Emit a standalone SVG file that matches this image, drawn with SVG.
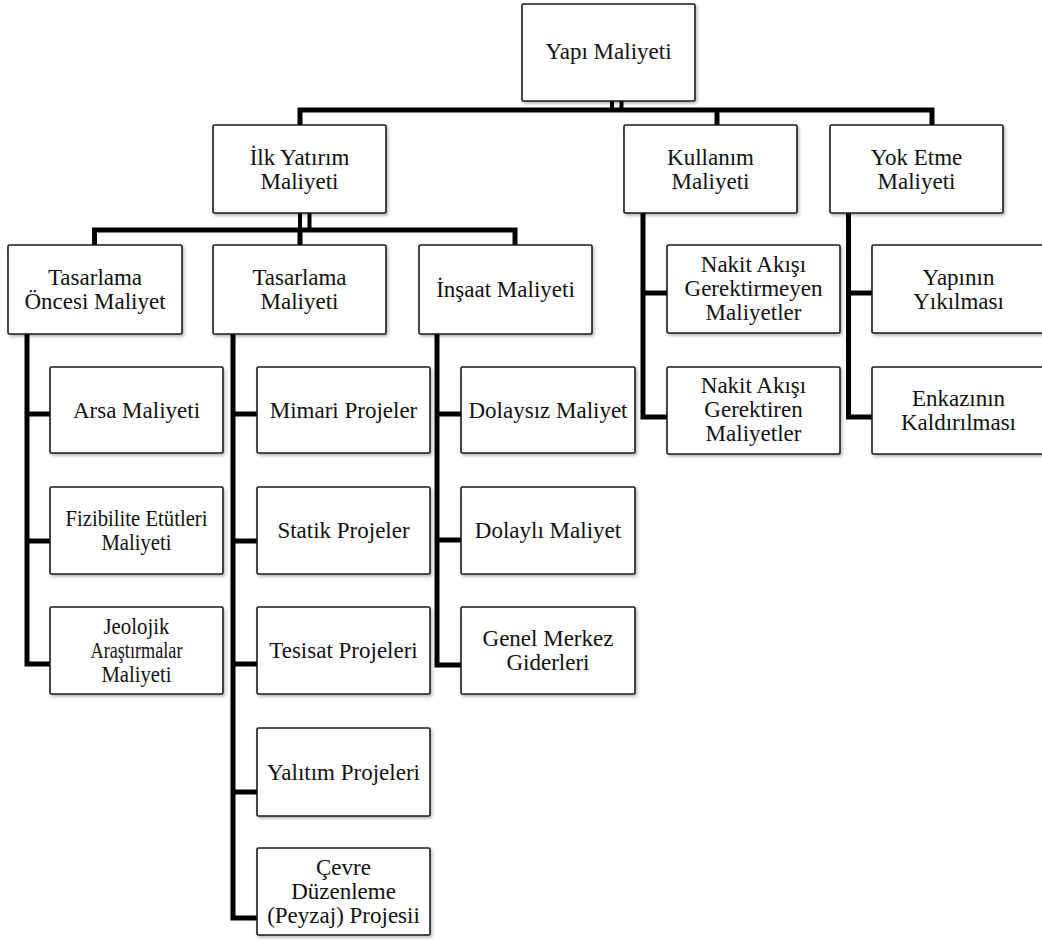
<svg xmlns="http://www.w3.org/2000/svg" width="1042" height="943" viewBox="0 0 1042 943">
<defs>
<filter id="sh" x="-10%" y="-10%" width="125%" height="130%">
<feDropShadow dx="1.5" dy="2" stdDeviation="1.5" flood-color="#000" flood-opacity="0.28"/>
</filter>
<style>
.box{fill:#fff;stroke:#1a1a1a;stroke-width:1.6;filter:url(#sh)}
.c{fill:none;stroke:#000;stroke-width:5;stroke-linejoin:miter}
.c2{fill:none;stroke:#000;stroke-width:4}
</style>
</defs>
<rect width="1042" height="943" fill="#fff"/>

<g id="connectors">
<path class="c2" d="M612,100 V110 M621.5,100 V110"/>
<path class="c" d="M300,125 V110 H932 V125 M717,110 V125"/>
<path class="c2" d="M300,212 V230 M309.5,212 V230"/>
<path class="c" d="M94.5,245 V230 H515 V245 M300,230 V245"/>
<path class="c" d="M27,334 V664 H50 M27,414 H50 M27,541 H50"/>
<path class="c" d="M233,334 V918 H257 M233,414 H257 M233,541 H257 M233,664 H257 M233,792 H257"/>
<path class="c" d="M437,334 V665 H461 M437,414 H461 M437,540 H461"/>
<path class="c" d="M643,212 V417 H667 M643,293 H667"/>
<path class="c" d="M848.5,212 V417 H872 M848.5,293 H872"/>
</g>

<g id="n-yapi"><rect class="box" x="522" y="4" width="173" height="97" rx="1.5"/><text font-family="'Liberation Serif', serif" font-size="23" fill="#111" text-anchor="middle" x="608.5" y="59">Yapı Maliyeti</text></g>

<g id="n-ilk"><rect class="box" x="213" y="125" width="173" height="88" rx="1.5"/><text font-family="'Liberation Serif', serif" font-size="23" fill="#111" text-anchor="middle" x="299.5" y="164.5">İlk Yatırım</text><text font-family="'Liberation Serif', serif" font-size="23" fill="#111" text-anchor="middle" x="299.5" y="188.5">Maliyeti</text></g>
<g id="n-kullanim"><rect class="box" x="624" y="125" width="173" height="88" rx="1.5"/><text font-family="'Liberation Serif', serif" font-size="23" fill="#111" text-anchor="middle" x="710.5" y="164.5">Kullanım</text><text font-family="'Liberation Serif', serif" font-size="23" fill="#111" text-anchor="middle" x="710.5" y="188.5">Maliyeti</text></g>
<g id="n-yoketme"><rect class="box" x="830" y="125" width="173" height="88" rx="1.5"/><text font-family="'Liberation Serif', serif" font-size="23" fill="#111" text-anchor="middle" x="916.5" y="164.5">Yok Etme</text><text font-family="'Liberation Serif', serif" font-size="23" fill="#111" text-anchor="middle" x="916.5" y="188.5">Maliyeti</text></g>

<g id="n-tasoncesi"><rect class="box" x="8" y="245" width="174" height="89" rx="1.5"/><text font-family="'Liberation Serif', serif" font-size="23" fill="#111" text-anchor="middle" x="95" y="285">Tasarlama</text><text font-family="'Liberation Serif', serif" font-size="23" fill="#111" text-anchor="middle" x="95" y="309">Öncesi Maliyet</text></g>
<g id="n-tasarlama"><rect class="box" x="213" y="245" width="173" height="89" rx="1.5"/><text font-family="'Liberation Serif', serif" font-size="23" fill="#111" text-anchor="middle" x="299.5" y="285">Tasarlama</text><text font-family="'Liberation Serif', serif" font-size="23" fill="#111" text-anchor="middle" x="299.5" y="309">Maliyeti</text></g>
<g id="n-insaat"><rect class="box" x="419" y="245" width="173" height="89" rx="1.5"/><text font-family="'Liberation Serif', serif" font-size="23" fill="#111" text-anchor="middle" x="505.5" y="297">İnşaat Maliyeti</text></g>

<g id="n-nakit1"><rect class="box" x="667" y="245" width="173" height="88" rx="1.5"/><text font-family="'Liberation Serif', serif" font-size="23" fill="#111" text-anchor="middle" x="753.5" y="272">Nakit Akışı</text><text font-family="'Liberation Serif', serif" font-size="23" fill="#111" text-anchor="middle" x="753.5" y="296">Gerektirmeyen</text><text font-family="'Liberation Serif', serif" font-size="23" fill="#111" text-anchor="middle" x="753.5" y="320">Maliyetler</text></g>
<g id="n-nakit2"><rect class="box" x="667" y="367" width="173" height="87" rx="1.5"/><text font-family="'Liberation Serif', serif" font-size="23" fill="#111" text-anchor="middle" x="753.5" y="393">Nakit Akışı</text><text font-family="'Liberation Serif', serif" font-size="23" fill="#111" text-anchor="middle" x="753.5" y="417">Gerektiren</text><text font-family="'Liberation Serif', serif" font-size="23" fill="#111" text-anchor="middle" x="753.5" y="441">Maliyetler</text></g>
<g id="n-yapinin"><rect class="box" x="872" y="245" width="173" height="88" rx="1.5"/><text font-family="'Liberation Serif', serif" font-size="23" fill="#111" text-anchor="middle" x="958.5" y="285">Yapının</text><text font-family="'Liberation Serif', serif" font-size="23" fill="#111" text-anchor="middle" x="958.5" y="309">Yıkılması</text></g>
<g id="n-enkaz"><rect class="box" x="872" y="367" width="173" height="87" rx="1.5"/><text font-family="'Liberation Serif', serif" font-size="23" fill="#111" text-anchor="middle" x="958.5" y="406">Enkazının</text><text font-family="'Liberation Serif', serif" font-size="23" fill="#111" text-anchor="middle" x="958.5" y="430">Kaldırılması</text></g>

<g id="n-arsa"><rect class="box" x="50" y="367" width="173" height="86" rx="1.5"/><text font-family="'Liberation Serif', serif" font-size="23" fill="#111" text-anchor="middle" x="136.5" y="417.5">Arsa Maliyeti</text></g>
<g id="n-fizibilite"><rect class="box" x="50" y="487" width="173" height="87" rx="1.5"/><text font-family="'Liberation Serif', serif" font-size="23" fill="#111" text-anchor="middle" x="136.5" y="526" textLength="142" lengthAdjust="spacingAndGlyphs">Fizibilite Etütleri</text><text font-family="'Liberation Serif', serif" font-size="23" fill="#111" text-anchor="middle" x="136.5" y="550" textLength="70" lengthAdjust="spacingAndGlyphs">Maliyeti</text></g>
<g id="n-jeolojik"><rect class="box" x="50" y="607" width="173" height="87" rx="1.5"/><text font-family="'Liberation Serif', serif" font-size="23" fill="#111" text-anchor="middle" x="136.5" y="634" textLength="66" lengthAdjust="spacingAndGlyphs">Jeolojik</text><text font-family="'Liberation Serif', serif" font-size="23" fill="#111" text-anchor="middle" x="136.5" y="658" textLength="92" lengthAdjust="spacingAndGlyphs">Araştırmalar</text><text font-family="'Liberation Serif', serif" font-size="23" fill="#111" text-anchor="middle" x="136.5" y="682" textLength="70" lengthAdjust="spacingAndGlyphs">Maliyeti</text></g>

<g id="n-mimari"><rect class="box" x="257" y="367" width="173" height="86" rx="1.5"/><text font-family="'Liberation Serif', serif" font-size="23" fill="#111" text-anchor="middle" x="343.5" y="417.5">Mimari Projeler</text></g>
<g id="n-statik"><rect class="box" x="257" y="487" width="173" height="87" rx="1.5"/><text font-family="'Liberation Serif', serif" font-size="23" fill="#111" text-anchor="middle" x="343.5" y="538">Statik Projeler</text></g>
<g id="n-tesisat"><rect class="box" x="257" y="607" width="173" height="87" rx="1.5"/><text font-family="'Liberation Serif', serif" font-size="23" fill="#111" text-anchor="middle" x="343.5" y="658">Tesisat Projeleri</text></g>
<g id="n-yalitim"><rect class="box" x="257" y="728" width="173" height="88" rx="1.5"/><text font-family="'Liberation Serif', serif" font-size="23" fill="#111" text-anchor="middle" x="343.5" y="779.5">Yalıtım Projeleri</text></g>
<g id="n-cevre"><rect class="box" x="257" y="848" width="173" height="87" rx="1.5"/><text font-family="'Liberation Serif', serif" font-size="23" fill="#111" text-anchor="middle" x="343.5" y="874.5">Çevre</text><text font-family="'Liberation Serif', serif" font-size="23" fill="#111" text-anchor="middle" x="343.5" y="898.5">Düzenleme</text><text font-family="'Liberation Serif', serif" font-size="23" fill="#111" text-anchor="middle" x="343.5" y="922.5">(Peyzaj) Projesii</text></g>

<g id="n-dolaysiz"><rect class="box" x="461" y="367" width="174" height="86" rx="1.5"/><text font-family="'Liberation Serif', serif" font-size="23" fill="#111" text-anchor="middle" x="548" y="417.5">Dolaysız Maliyet</text></g>
<g id="n-dolayli"><rect class="box" x="461" y="487" width="174" height="87" rx="1.5"/><text font-family="'Liberation Serif', serif" font-size="23" fill="#111" text-anchor="middle" x="548" y="538">Dolaylı Maliyet</text></g>
<g id="n-genel"><rect class="box" x="461" y="607" width="174" height="87" rx="1.5"/><text font-family="'Liberation Serif', serif" font-size="23" fill="#111" text-anchor="middle" x="548" y="646">Genel Merkez</text><text font-family="'Liberation Serif', serif" font-size="23" fill="#111" text-anchor="middle" x="548" y="670">Giderleri</text></g>
</svg>
